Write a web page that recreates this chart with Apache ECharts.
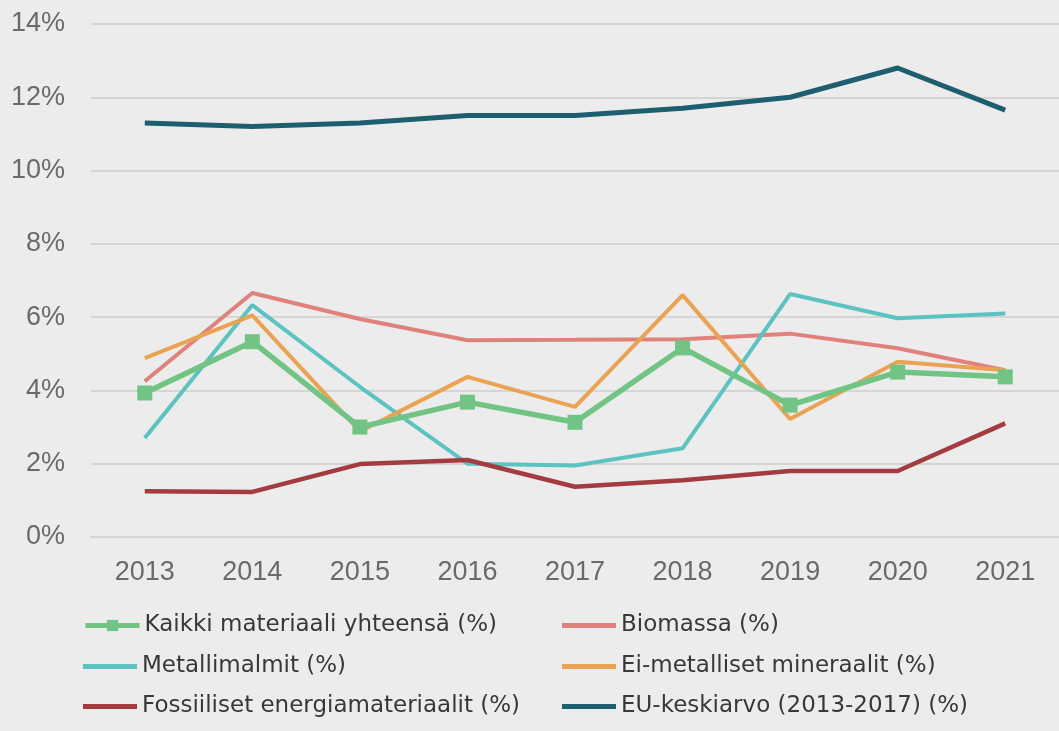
<!DOCTYPE html>
<html>
<head>
<meta charset="utf-8">
<script src="https://cdn.jsdelivr.net/npm/echarts@6/dist/echarts.min.js"></script>
<style>
html,body{margin:0;padding:0;background:#ececec;}
#chart{width:1059px;height:731px;}
</style>
</head>
<body>
<div id="chart"></div>
<script>
const years = ['2013','2014','2015','2016','2017','2018','2019','2020','2021'];
const kaikki = [3.93, 5.33, 3.0, 3.68, 3.13, 5.16, 3.6, 4.5, 4.37];
const biomassa = [4.25, 6.66, 5.95, 5.37, 5.38, 5.4, 5.55, 5.15, 4.55];
const metallimalmit = [2.7, 6.33, 4.1, 2.0, 1.95, 2.42, 6.63, 5.97, 6.1];
const eiMetalliset = [4.88, 6.05, 2.88, 4.37, 3.55, 6.6, 3.22, 4.78, 4.55];
const fossiiliset = [1.25, 1.23, 1.99, 2.1, 1.37, 1.55, 1.8, 1.8, 3.1];
const euKeskiarvo = [11.3, 11.2, 11.3, 11.5, 11.5, 11.7, 12.0, 12.8, 11.65];
const yTicks = [0, 2, 4, 6, 8, 10, 12, 14];

const names = [
  'Kaikki materiaali yhteensä (%)',
  'Biomassa (%)',
  'Metallimalmit (%)',
  'Ei-metalliset mineraalit (%)',
  'Fossiiliset energiamateriaalit (%)',
  'EU-keskiarvo (2013-2017) (%)'
];
const colors = ['#72c484', '#e0827b', '#5cc3c1', '#e9a353', '#a33c40', '#1e5f6f'];
const values = [kaikki, biomassa, metallimalmit, eiMetalliset, fossiiliset, euKeskiarvo];
const widths = [5.5, 4, 4, 4, 4.5, 5];

const series = names.map((n, i) => ({
  name: n,
  type: 'line',
  data: values[i],
  symbol: i === 0 ? 'rect' : 'none',
  symbolSize: 15,
  showSymbol: i === 0,
  color: colors[i],
  lineStyle: { width: widths[i], color: colors[i] },
  itemStyle: { color: colors[i] },
  z: i === 0 ? 3 : 2
}));

const legendText = { fontFamily: 'DejaVu Sans', fontSize: 23, color: '#383838' };
const legendPos = [
  [83, 614], [562, 614],
  [83, 655], [562, 655],
  [83, 695], [562, 695]
];
const legends = names.map((n, i) => (i === 0 ? {
  data: [n],
  left: legendPos[i][0],
  top: legendPos[i][1],
  itemWidth: 54,
  itemHeight: 14,
  itemGap: 0,
  selectedMode: false,
  lineStyle: { width: 5 },
  textStyle: legendText,
  padding: 0
} : {
  data: [{ name: n, icon: 'rect' }],
  left: legendPos[i][0],
  top: legendPos[i][1],
  itemWidth: 54,
  itemHeight: 5,
  itemGap: 0,
  selectedMode: false,
  textStyle: legendText,
  padding: 0
}));

const chart = echarts.init(document.getElementById('chart'), null, { renderer: 'canvas' });
chart.setOption({
  animation: false,
  backgroundColor: '#ececec',
  grid: { left: 91, top: 24, width: 984, height: 513, containLabel: false },
  legend: legends,
  xAxis: {
    type: 'category',
    data: years,
    boundaryGap: true,
    axisLine: { show: true, lineStyle: { color: '#d5d5d5', width: 2 } },
    axisTick: { show: false },
    axisLabel: { fontFamily: 'Liberation Sans', fontSize: 27, color: '#6a6a6a', margin: 22 }
  },
  yAxis: {
    type: 'value',
    min: yTicks[0],
    max: yTicks[yTicks.length - 1],
    interval: 2,
    axisLine: { show: false },
    axisTick: { show: false },
    splitLine: { lineStyle: { color: '#d5d5d5', width: 2 } },
    axisLabel: {
      fontFamily: 'Liberation Sans', fontSize: 27, color: '#6a6a6a', margin: 26,
      formatter: v => v + '%'
    }
  },
  series: series
});
</script>
</body>
</html>
